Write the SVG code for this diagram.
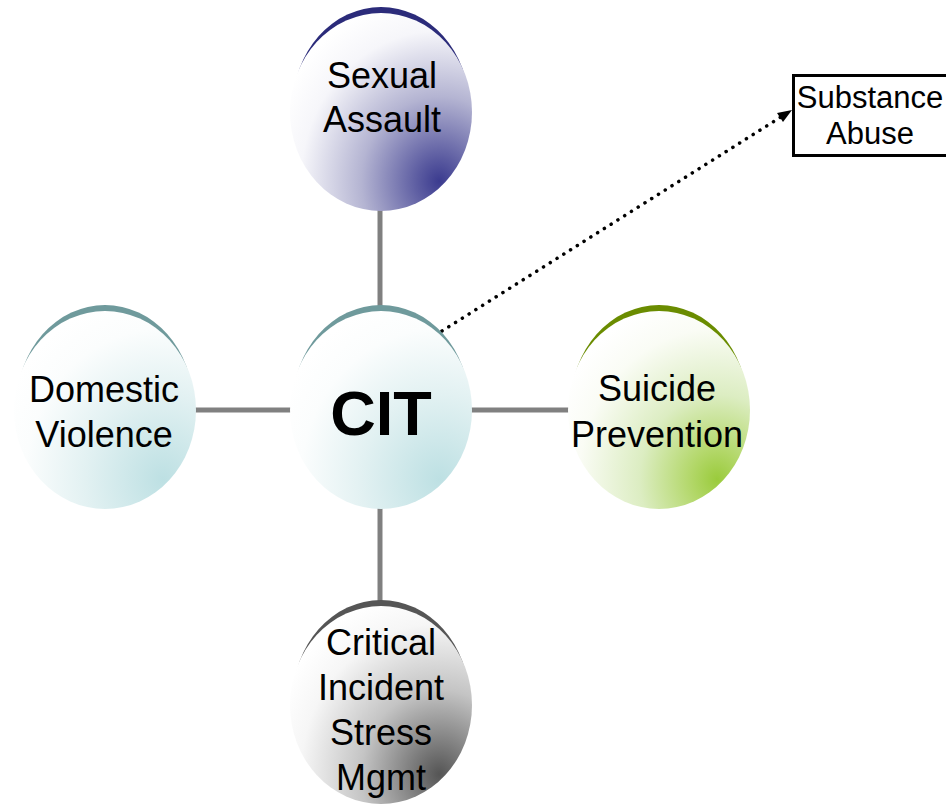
<svg xmlns="http://www.w3.org/2000/svg" width="946" height="806" viewBox="0 0 946 806">
<style>
  .lbl { font-family: "Liberation Sans", Arial, sans-serif; font-size: 36px; fill: #000; text-anchor: middle; }
  .cit { font-family: "Liberation Sans", Arial, sans-serif; font-size: 63px; font-weight: bold; fill: #000; text-anchor: middle; }
  .box { font-family: "Liberation Sans", Arial, sans-serif; font-size: 31px; fill: #000; text-anchor: middle; }
  .conn { stroke: #808080; stroke-width: 5; fill: none; }
  .dots { stroke: #000; stroke-width: 3.5; stroke-linecap: round; stroke-dasharray: 0.1 7.9; fill: none; }
</style>
<defs>
  <radialGradient id="gBlue" cx="0.82" cy="0.85" r="0.95" fx="0.82" fy="0.85">
    <stop offset="0" stop-color="#3b3b8f"/>
    <stop offset="0.12" stop-color="#5a5aa0"/>
    <stop offset="0.45" stop-color="#b4b4d2"/>
    <stop offset="0.8" stop-color="#f6f6fa"/>
    <stop offset="1" stop-color="#ffffff"/>
  </radialGradient>
  <radialGradient id="gTeal" cx="0.82" cy="0.85" r="0.95" fx="0.82" fy="0.85">
    <stop offset="0" stop-color="#bde0e3"/>
    <stop offset="0.45" stop-color="#e2f1f2"/>
    <stop offset="0.8" stop-color="#fbfdfd"/>
    <stop offset="1" stop-color="#ffffff"/>
  </radialGradient>
  <radialGradient id="gGreen" cx="0.82" cy="0.85" r="0.95" fx="0.82" fy="0.85">
    <stop offset="0" stop-color="#9acb3c"/>
    <stop offset="0.15" stop-color="#b2d768"/>
    <stop offset="0.45" stop-color="#dcedc2"/>
    <stop offset="0.8" stop-color="#fafcf5"/>
    <stop offset="1" stop-color="#ffffff"/>
  </radialGradient>
  <radialGradient id="gGray" cx="0.82" cy="0.85" r="0.95" fx="0.82" fy="0.85">
    <stop offset="0" stop-color="#555555"/>
    <stop offset="0.15" stop-color="#7a7a7a"/>
    <stop offset="0.45" stop-color="#c4c4c4"/>
    <stop offset="0.8" stop-color="#f6f6f6"/>
    <stop offset="1" stop-color="#ffffff"/>
  </radialGradient>
</defs>

<g id="connectors">
  <line class="conn" x1="380" y1="205" x2="380" y2="310"/>
  <line class="conn" x1="190" y1="410" x2="296" y2="410"/>
  <line class="conn" x1="466" y1="410" x2="574" y2="410"/>
  <line class="conn" x1="380" y1="505" x2="380" y2="612"/>
  <line class="dots" x1="442" y1="331" x2="784" y2="115"/>
  <path d="M792,110 L777,113 L783,122 Z" fill="#000"/>
</g>

<g id="sexual-assault">
  <ellipse cx="381" cy="106" rx="88" ry="99" fill="#2b2b7a"/>
  <ellipse cx="381" cy="112" rx="91" ry="99" fill="url(#gBlue)"/>
  <text class="lbl" x="382" y="88">Sexual</text>
  <text class="lbl" x="382" y="132">Assault</text>
</g>

<g id="cit">
  <ellipse cx="381" cy="404" rx="88" ry="99" fill="#6f9a9c"/>
  <ellipse cx="381" cy="410" rx="91" ry="99" fill="url(#gTeal)"/>
  <text class="cit" x="381" y="435">CIT</text>
</g>

<g id="domestic-violence">
  <ellipse cx="105" cy="404" rx="88" ry="99" fill="#6f9a9c"/>
  <ellipse cx="105" cy="410" rx="91" ry="99" fill="url(#gTeal)"/>
  <text class="lbl" x="104" y="402">Domestic</text>
  <text class="lbl" x="104" y="447">Violence</text>
</g>

<g id="suicide-prevention">
  <ellipse cx="659" cy="404" rx="88" ry="99" fill="#6a8c00"/>
  <ellipse cx="659" cy="410" rx="91" ry="99" fill="url(#gGreen)"/>
  <text class="lbl" x="657" y="401">Suicide</text>
  <text class="lbl" x="657" y="447">Prevention</text>
</g>

<g id="critical-incident">
  <ellipse cx="381" cy="699" rx="88" ry="99" fill="#555555"/>
  <ellipse cx="381" cy="705" rx="91" ry="99" fill="url(#gGray)"/>
  <text class="lbl" x="381" y="655">Critical</text>
  <text class="lbl" x="381" y="700">Incident</text>
  <text class="lbl" x="381" y="745">Stress</text>
  <text class="lbl" x="381" y="790">Mgmt</text>
</g>

<g id="substance-abuse">
  <rect x="793.5" y="75.5" width="160" height="80" fill="#fff" stroke="#000" stroke-width="3"/>
  <text class="box" x="870" y="108">Substance</text>
  <text class="box" x="870" y="144">Abuse</text>
</g>
</svg>
